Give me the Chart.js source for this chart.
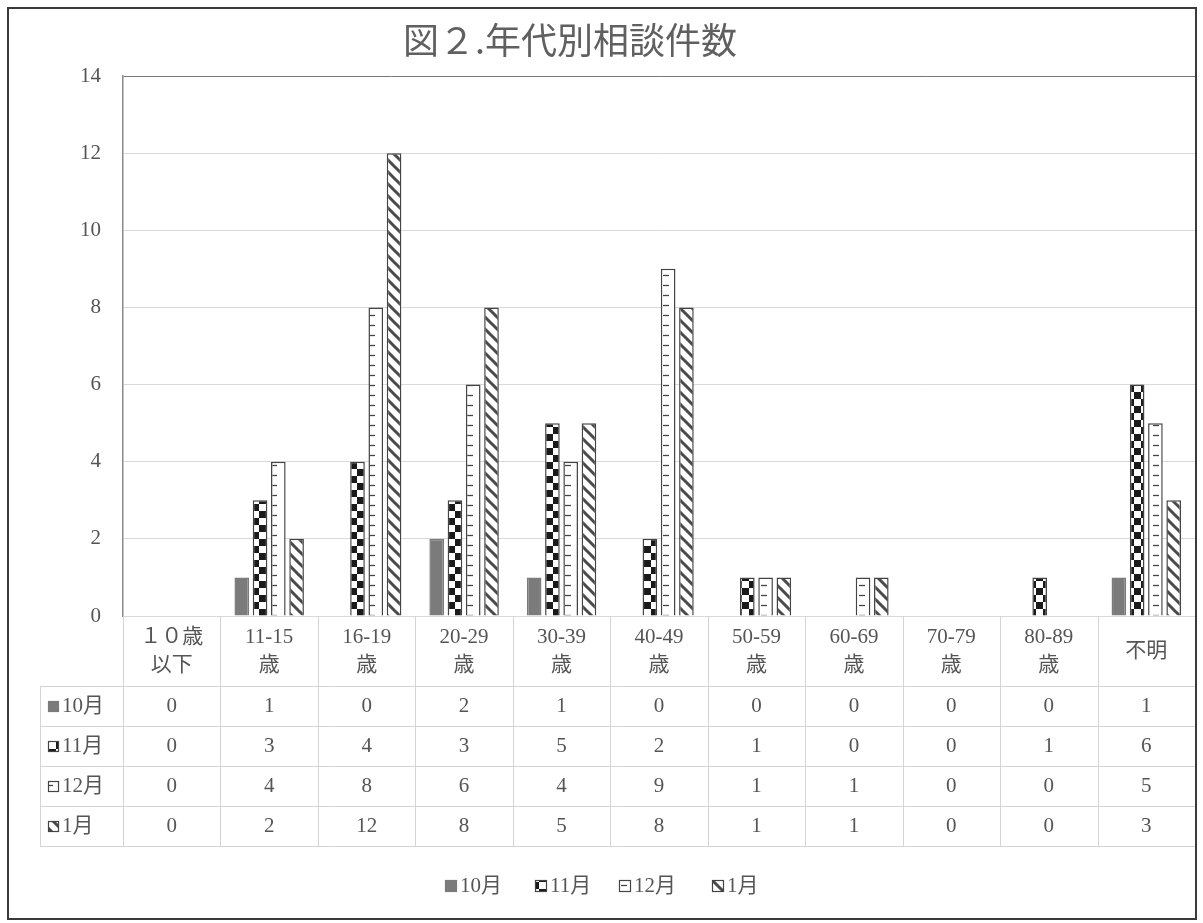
<!DOCTYPE html>
<html>
<head>
<meta charset="utf-8">
<title>図２.年代別相談件数</title>
<script src="https://cdn.jsdelivr.net/npm/chart.js@4"></script>
<style>
  html, body { margin: 0; padding: 0; background: #ffffff; }
  canvas { display: block; }
</style>
</head>
<body>
<canvas id="chart" width="1203" height="923"></canvas>
<script>
// Age-group categories (two-line labels, drawn in the data table header)
const categories = [
  ['１０歳', '以下'], ['11-15', '歳'], ['16-19', '歳'], ['20-29', '歳'],
  ['30-39', '歳'], ['40-49', '歳'], ['50-59', '歳'], ['60-69', '歳'],
  ['70-79', '歳'], ['80-89', '歳'], ['不明']
];
const seriesNames = ['10月', '11月', '12月', '1月'];
const oct = [0, 1, 0, 2, 1, 0, 0, 0, 0, 0, 1];
const nov = [0, 3, 4, 3, 5, 2, 1, 0, 0, 1, 6];
const dec = [0, 4, 8, 6, 4, 9, 1, 1, 0, 0, 5];
const jan = [0, 2, 12, 8, 5, 8, 1, 1, 0, 0, 3];
const yTicks = [0, 2, 4, 6, 8, 10, 12, 14];

const TEXT = '#555555';
const FONT = '"Liberation Serif", "DejaVu Serif", "Noto Sans CJK JP", serif';
const EDGE = '#444444';

// Fill patterns for the monochrome series
function makePattern(w, h, paint) {
  const c = document.createElement('canvas');
  c.width = w; c.height = h;
  const g = c.getContext('2d');
  g.fillStyle = '#ffffff';
  g.fillRect(0, 0, w, h);
  paint(g, w, h);
  return document.createElement('canvas').getContext('2d').createPattern(c, 'repeat');
}
const solidGray = '#7b7b7b';
const checker = makePattern(14, 14, (g) => {
  g.fillStyle = '#1a1a1a';
  g.fillRect(0, 0, 7, 7);
  g.fillRect(7, 7, 7, 7);
});
const ruler = makePattern(14, 10, (g) => {
  g.strokeStyle = '#444444';
  g.lineWidth = 1.3;
  g.beginPath();
  g.moveTo(5, 5.5); g.lineTo(11, 5.5);
  g.stroke();
});
const stripes = makePattern(12, 12, (g) => {
  g.strokeStyle = '#4a4a4a';
  g.lineWidth = 3;
  g.beginPath();
  for (let k = -1; k <= 1; k++) {
    g.moveTo(k * 12 - 2, -2); g.lineTo(k * 12 + 14, 14);
  }
  g.stroke();
});
const fills = [solidGray, checker, ruler, stripes];
const seriesData = [oct, nov, dec, jan];

function drawSwatch(ctx, i, x, y, s) {
  ctx.save();
  ctx.fillStyle = fills[i];
  ctx.fillRect(x, y, s, s);
  ctx.strokeStyle = i === 0 ? solidGray : EDGE;
  ctx.lineWidth = 1.2;
  ctx.strokeRect(x + 0.5, y + 0.5, s - 1, s - 1);
  ctx.restore();
}

// Title, frame, data table and legend around the plot area
const decorPlugin = {
  id: 'decor',
  beforeDraw(chart) {
    const ctx = chart.ctx;
    ctx.save();
    ctx.fillStyle = '#ffffff';
    ctx.fillRect(0, 0, chart.width, chart.height);
    ctx.restore();
  },
  afterDraw(chart) {
    const ctx = chart.ctx;
    const xs = chart.scales.x;
    const area = chart.chartArea;
    const n = categories.length;
    const colW = (area.right - area.left) / n;
    const tableLeft = 40;
    const headerBottom = area.bottom + 70;
    const rowH = 40;
    const tableBottom = headerBottom + rowH * seriesNames.length;

    ctx.save();
    // title
    ctx.fillStyle = '#606060';
    ctx.font = '36px "Noto Sans CJK JP", sans-serif';
    ctx.textAlign = 'center';
    ctx.textBaseline = 'middle';
    ctx.fillText('図２.年代別相談件数', 570, 40);

    // table grid
    ctx.strokeStyle = '#d4d4d4';
    ctx.lineWidth = 1;
    ctx.beginPath();
    for (let r = 0; r <= seriesNames.length; r++) {
      const y = Math.round(headerBottom + r * rowH) + 0.5;
      ctx.moveTo(tableLeft, y); ctx.lineTo(area.right, y);
    }
    for (let k = 0; k <= n; k++) {
      const x = Math.round(area.left + k * colW) + 0.5;
      ctx.moveTo(x, area.bottom); ctx.lineTo(x, tableBottom);
    }
    ctx.moveTo(tableLeft + 0.5, headerBottom); ctx.lineTo(tableLeft + 0.5, tableBottom);
    ctx.stroke();

    // category header labels
    ctx.fillStyle = TEXT;
    ctx.font = '21px ' + FONT;
    ctx.textAlign = 'center';
    chart.data.labels.forEach((lab, i) => {
      const cx = xs.getPixelForValue(i);
      const lines = Array.isArray(lab) ? lab : [lab];
      const mid = area.bottom + 35;
      lines.forEach((t, j) => {
        const y = mid + (j - (lines.length - 1) / 2) * 28;
        ctx.fillText(t, cx, y);
      });
    });

    // data rows
    seriesNames.forEach((name, r) => {
      const cy = headerBottom + r * rowH + rowH / 2;
      drawSwatch(ctx, r, 48, cy - 5, 11);
      ctx.textAlign = 'left';
      ctx.fillStyle = TEXT;
      ctx.fillText(name, 62, cy);
      ctx.textAlign = 'center';
      chart.data.datasets[r].data.forEach((v, i) => {
        ctx.fillText(String(v), xs.getPixelForValue(i), cy);
      });
    });

    // legend
    const legendY = 886;
    const items = [445, 535, 619, 712];
    seriesNames.forEach((name, i) => {
      drawSwatch(ctx, i, items[i], legendY - 6, 12);
      ctx.textAlign = 'left';
      ctx.fillStyle = TEXT;
      ctx.fillText(name, items[i] + 15, legendY);
    });

    // outer frame
    ctx.strokeStyle = '#3a3a3a';
    ctx.lineWidth = 2;
    ctx.strokeRect(8, 8, 1188, 911);
    ctx.restore();
  }
};

new Chart(document.getElementById('chart'), {
  type: 'bar',
  data: {
    labels: categories,
    datasets: seriesNames.map((name, i) => ({
      label: name,
      data: seriesData[i],
      backgroundColor: fills[i],
      borderColor: i === 0 ? solidGray : EDGE,
      borderWidth: 1.5,
      borderSkipped: 'bottom',
      categoryPercentage: 0.75,
      barPercentage: 0.8
    }))
  },
  options: {
    responsive: false,
    devicePixelRatio: 1,
    animation: false,
    layout: { padding: { top: 76, right: 8, bottom: 307, left: 0 } },
    plugins: {
      legend: { display: false },
      title: { display: false },
      tooltip: { enabled: false }
    },
    scales: {
      x: {
        type: 'category',
        display: false,
        offset: true
      },
      y: {
        min: 0,
        max: 14,
        afterFit(scale) { scale.width = 123; },
        afterBuildTicks(scale) { scale.ticks = yTicks.map(v => ({ value: v })); },
        ticks: {
          padding: 22,
          color: TEXT,
          font: { family: FONT, size: 21 }
        },
        grid: {
          drawTicks: false,
          color: (c) => (c.tick && c.tick.value === 14 ? '#777777' : '#d9d9d9'),
          lineWidth: 1
        },
        border: { display: true, color: '#8a8a8a', width: 1.5 }
      }
    }
  },
  plugins: [decorPlugin]
});
</script>
</body>
</html>
